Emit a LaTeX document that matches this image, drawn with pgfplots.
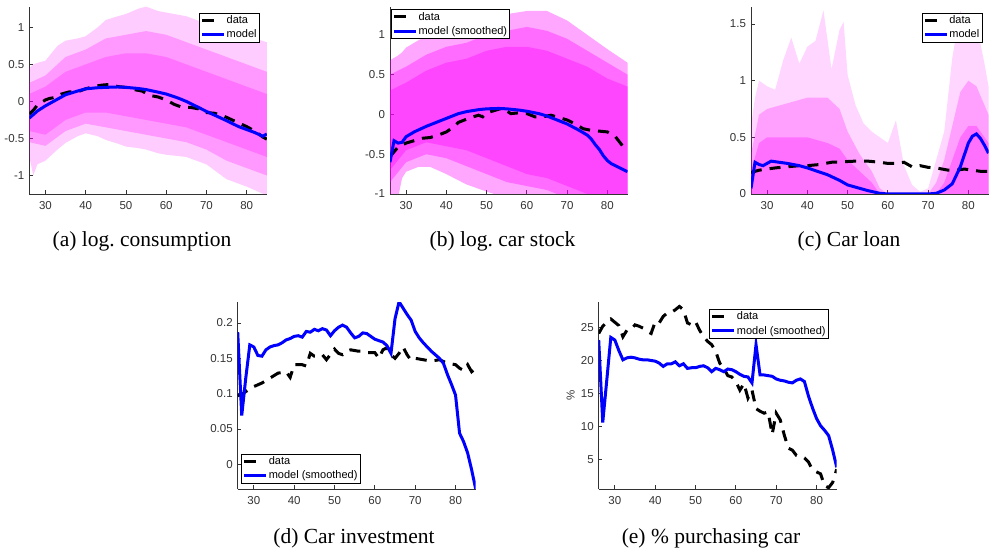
\documentclass[border=0pt]{standalone}
\usepackage{fontspec}
\setmainfont{Liberation Serif}
\newfontfamily\sansf{Liberation Sans}
\usepackage{pgfplots}
\pgfplotsset{compat=1.18}
\definecolor{mag}{rgb}{1,0,1}
\pgfplotsset{
  panel/.style={
    scale only axis, width=237.5pt, height=187pt,
    xmin=26, xmax=85,
    axis x line*=bottom, axis y line*=left,
    axis line style={black!80, line width=0.8pt},
    tick align=inside, major tick length=3.5pt,
    tick style={black!80, line width=0.8pt},
    xtick={30,40,50,60,70,80},
    xticklabels={30,40,50,60,70,80},
    tick label style={font=\sansf\fontsize{11.5}{13}\selectfont, text=black!80},
    xticklabel style={yshift=-4pt},
    yticklabel style={xshift=-1.5pt},
    legend style={font=\sansf\fontsize{11}{12}\selectfont, draw=black, line width=0.6pt,
      inner xsep=1.5pt, inner ysep=1.5pt, row sep=3pt, fill=white,
      nodes={inner sep=1pt}},
    legend cell align=left,
    legend image code/.code={\draw[##1] (0pt,0pt) -- (22pt,0pt);},
  },
  datal/.style={black, line width=3pt, dash pattern=on 11pt off 8pt,
    legend image code/.code={\draw[##1, dash pattern=on 12pt off 10pt] (0pt,0pt) -- (22pt,0pt);}},
  modell/.style={blue, line width=3pt},
  band/.style={forget plot, draw=none, fill=mag, fill opacity=#1},
}
\begin{document}
\begin{tikzpicture}[x=1pt,y=1pt]
\useasboundingbox (0,0) rectangle (993,554);

% ---------------- (a)
\begin{axis}[panel, at={(29.3pt,360pt)}, anchor=south west,
  ymin=-1.25, ymax=1.275, ytick={-1,-0.5,0,0.5,1}, yticklabels={-1,-0.5,0,0.5,1},
  legend style={at={(0.969,0.9695)},anchor=north east}]
\addplot[band=0.2] coordinates {(26,0.45)(27,0.5)(28,0.52)(30,0.55)(33,0.75)(35,0.82)(38,0.85)(40,0.88)(43,1.0)(45,1.1)(48,1.15)(50,1.18)(53,1.25)(55,1.28)(58,1.22)(60,1.2)(65,1.15)(70,1.05)(75,0.95)(80,0.88)(85,0.8)
 (85,-1.27)(80,-1.15)(75,-1.05)(70,-0.85)(65,-0.75)(60,-0.72)(58,-0.7)(55,-0.65)(53,-0.63)(50,-0.61)(48,-0.57)(45,-0.52)(43,-0.47)(40,-0.43)(38,-0.47)(35,-0.56)(33,-0.65)(30,-0.8)(28,-0.85)(27,-1.0)(26,-0.75)};
\addplot[band=0.25] coordinates {(26,0.25)(30,0.35)(35,0.6)(40,0.7)(45,0.85)(50,0.9)(55,0.95)(60,0.9)(65,0.8)(70,0.7)(75,0.6)(80,0.5)(85,0.4)
 (85,-1.0)(80,-0.9)(75,-0.8)(70,-0.65)(65,-0.55)(60,-0.5)(55,-0.45)(50,-0.4)(45,-0.35)(40,-0.3)(35,-0.4)(30,-0.6)(26,-0.55)};
\addplot[band=0.25] coordinates {(26,0.1)(30,0.2)(35,0.4)(40,0.5)(45,0.6)(50,0.65)(55,0.65)(60,0.6)(65,0.5)(70,0.4)(75,0.3)(80,0.2)(85,0.1)
 (85,-0.75)(80,-0.65)(75,-0.55)(70,-0.45)(65,-0.35)(60,-0.3)(55,-0.25)(50,-0.2)(45,-0.15)(40,-0.15)(35,-0.25)(30,-0.45)(26,-0.4)};
\addplot[datal] coordinates {(26,-0.17)(27,-0.12)(28,-0.05)(30,0.02)(31,0.04)(32,0.05)(34,0.10)(36,0.13)(38,0.13)(40,0.17)(42,0.20)(44,0.22)(46,0.23)(48,0.20)(50,0.19)(52,0.16)(54,0.14)(56,0.08)(58,0.06)(60,0.02)(62,-0.04)(64,-0.08)(66,-0.08)(68,-0.10)(70,-0.15)(72,-0.16)(74,-0.19)(76,-0.24)(78,-0.29)(80,-0.34)(82,-0.40)(84,-0.48)(85,-0.51)};
\addlegendentry{data}
\addplot[modell] coordinates {(26,-0.225)(28,-0.13)(30,-0.06)(32,0.0)(35,0.09)(38,0.14)(40,0.17)(43,0.185)(45,0.19)(48,0.195)(50,0.19)(53,0.175)(55,0.16)(58,0.125)(60,0.10)(63,0.045)(65,0.0)(68,-0.08)(70,-0.135)(73,-0.21)(75,-0.26)(78,-0.34)(80,-0.38)(82,-0.42)(84,-0.47)(85,-0.44)};
\addlegendentry{model}
\end{axis}

% ---------------- (b)
\begin{axis}[panel, at={(390pt,360pt)}, anchor=south west,
  ymin=-1, ymax=1.35, ytick={-1,-0.5,0,0.5,1}, yticklabels={-1,-0.5,0,0.5,1},
  legend style={at={(0.003,0.988)},anchor=north west}]
\addplot[band=0.35] coordinates {(26,0.68)(28,0.74)(29,0.78)(30,0.84)(33,0.93)(36,1.0)(40,1.07)(45,1.1)(50,1.2)(55,1.26)(60,1.3)(65,1.3)(70,1.18)(75,1.0)(80,0.82)(85,0.65)
 (85,-1.05)(80,-1.05)(75,-1.05)(70,-1.05)(65,-1.05)(60,-1.05)(55,-1.05)(50,-0.97)(45,-0.88)(40,-0.75)(36,-0.66)(33,-0.66)(30,-0.72)(29,-0.8)(28,-1.05)(26,-1.05)};
\addplot[band=0.35] coordinates {(26,0.5)(30,0.6)(35,0.75)(40,0.85)(45,0.9)(50,1.0)(55,1.05)(60,1.1)(65,1.05)(70,0.95)(75,0.8)(80,0.65)(85,0.5)
 (85,-1.05)(80,-1.05)(75,-1.05)(70,-1.05)(65,-0.95)(60,-0.9)(55,-0.85)(50,-0.75)(45,-0.65)(40,-0.55)(35,-0.5)(30,-0.6)(26,-0.85)};
\addplot[band=0.35] coordinates {(26,0.3)(30,0.4)(35,0.55)(40,0.65)(45,0.7)(50,0.8)(55,0.85)(60,0.85)(65,0.8)(70,0.7)(75,0.6)(80,0.45)(85,0.35)
 (85,-1.05)(80,-1.05)(75,-1.0)(70,-0.9)(65,-0.8)(60,-0.75)(55,-0.65)(50,-0.55)(45,-0.45)(40,-0.4)(35,-0.35)(30,-0.45)(26,-0.7)};
\addplot[datal] coordinates {(26,-0.53)(27,-0.47)(28,-0.41)(30,-0.36)(32,-0.33)(34,-0.30)(36,-0.29)(38,-0.26)(40,-0.22)(42,-0.15)(43,-0.10)(46,-0.04)(48,-0.01)(49,-0.03)(50,0.02)(52,0.05)(54,0.08)(56,0.01)(58,0.02)(60,0.01)(62,-0.03)(64,-0.03)(66,-0.01)(68,-0.04)(70,-0.07)(72,-0.12)(74,-0.18)(76,-0.20)(78,-0.21)(80,-0.22)(82,-0.28)(84,-0.41)(85,-0.43)};
\addlegendentry{data}
\addplot[modell] coordinates {(26,-0.6)(27,-0.33)(28,-0.36)(29,-0.35)(30,-0.28)(32,-0.22)(35,-0.15)(38,-0.09)(40,-0.05)(43,0.01)(45,0.035)(48,0.06)(50,0.07)(53,0.075)(55,0.07)(58,0.055)(60,0.04)(63,0.01)(65,-0.02)(68,-0.08)(70,-0.12)(73,-0.2)(75,-0.26)(76,-0.31)(77,-0.38)(78,-0.44)(79,-0.52)(80,-0.58)(81,-0.62)(83,-0.67)(85,-0.72)};
\addlegendentry{model (smoothed)}
\end{axis}

% ---------------- (c)
\begin{axis}[panel, at={(751pt,360pt)}, anchor=south west,
  ymin=0, ymax=1.65, ytick={0,0.5,1,1.5}, yticklabels={0,0.5,1,1.5},
  legend style={at={(0.973,0.9695)},anchor=north east}]
\addplot[band=0.16] coordinates {(26,0.6)(27,0.85)(28,1.0)(30,0.95)(32,0.92)(34,1.18)(36,1.38)(38,1.15)(40,1.3)(42,1.35)(44,1.62)(46,1.1)(48,1.45)(49,1.52)(50,1.05)(52,0.78)(54,0.62)(56,0.55)(58,0.5)(60,0.45)(62,0.65)(63,0.45)(64,0.25)(66,0.08)(68,0.02)(70,0.05)(72,0.3)(74,0.55)(76,1.2)(78,1.62)(80,1.4)(82,1.5)(84,1.15)(85,0.95)
 (85,0)(26,0)};
\addplot[band=0.25] coordinates {(26,0.35)(28,0.7)(30,0.75)(35,0.8)(40,0.85)(45,0.85)(48,0.75)(50,0.55)(53,0.35)(56,0.2)(58,0.05)(60,0.0)(70,0.0)(72,0.1)(74,0.3)(76,0.6)(78,0.9)(80,1.0)(82,0.95)(85,0.7)
 (85,0)(26,0)};
\addplot[band=0.3] coordinates {(26,0.2)(28,0.45)(30,0.5)(35,0.5)(40,0.5)(45,0.45)(48,0.4)(50,0.3)(53,0.2)(56,0.1)(58,0.0)(72,0.0)(74,0.1)(76,0.3)(78,0.5)(80,0.6)(82,0.6)(85,0.45)
 (85,0)(26,0)};
\addplot[datal] coordinates {(26,0.19)(28,0.21)(30,0.22)(32,0.23)(35,0.24)(38,0.25)(40,0.25)(43,0.26)(46,0.28)(49,0.285)(52,0.29)(55,0.29)(58,0.28)(60,0.27)(62,0.27)(64,0.28)(65,0.26)(66,0.24)(68,0.25)(70,0.235)(72,0.23)(75,0.21)(77,0.21)(79,0.22)(81,0.21)(83,0.2)(85,0.2)};
\addlegendentry{data}
\addplot[modell] coordinates {(26,0.05)(27,0.28)(28,0.26)(29,0.25)(30,0.27)(31,0.29)(33,0.28)(35,0.27)(38,0.25)(40,0.23)(45,0.17)(48,0.12)(50,0.08)(55,0.03)(58,0.006)(60,0)(70,0)(72,0.006)(74,0.035)(76,0.09)(78,0.24)(80,0.45)(81,0.51)(82,0.53)(83,0.49)(84,0.43)(85,0.36)};
\addlegendentry{model}
\end{axis}

% ---------------- (d)
\begin{axis}[panel, at={(237.7pt,65pt)}, anchor=south west, width=238pt, height=186.5pt,
  ymin=-0.035, ymax=0.229, ytick={0,0.05,0.1,0.15,0.2}, yticklabels={0,0.05,0.1,0.15,0.2},
  legend style={at={(0.014,0.031)},anchor=south west}]
\addplot[datal] coordinates {(26,0.097)(27,0.099)(28,0.103)(30,0.11)(32,0.115)(34,0.122)(36,0.129)(38,0.131)(39,0.123)(40,0.141)(42,0.141)(43,0.139)(44,0.157)(45,0.153)(46,0.153)(47,0.155)(48,0.148)(50,0.163)(51,0.157)(52,0.155)(53,0.16)(54,0.162)(56,0.16)(57,0.16)(58,0.158)(60,0.158)(61,0.15)(62,0.162)(63,0.165)(64,0.155)(65,0.15)(66,0.157)(67,0.166)(68,0.155)(69,0.147)(70,0.15)(72,0.148)(74,0.146)(76,0.148)(78,0.143)(80,0.141)(81,0.136)(82,0.133)(83,0.141)(84,0.131)(85,0.136)};
\addlegendentry{data}
\addplot[modell] coordinates {(26,0.187)(27,0.069)(28,0.122)(29,0.169)(30,0.166)(31,0.154)(32,0.153)(33,0.162)(34,0.166)(35,0.168)(36,0.169)(37,0.172)(38,0.176)(39,0.178)(40,0.181)(41,0.182)(42,0.18)(43,0.188)(44,0.187)(45,0.191)(46,0.189)(47,0.192)(48,0.19)(49,0.182)(50,0.189)(51,0.194)(52,0.197)(53,0.194)(54,0.186)(55,0.179)(56,0.181)(57,0.186)(58,0.185)(59,0.181)(60,0.177)(61,0.175)(62,0.173)(63,0.168)(64,0.157)(65,0.206)(66,0.23)(67,0.221)(68,0.212)(69,0.204)(70,0.188)(71,0.179)(72,0.172)(73,0.166)(74,0.16)(75,0.155)(76,0.15)(77,0.143)(78,0.127)(79,0.113)(80,0.098)(81,0.044)(82,0.032)(83,0.016)(84,-0.008)(85,-0.035)};
\addlegendentry{model (smoothed)}
\end{axis}

% ---------------- (e)
\begin{axis}[panel, at={(598.7pt,65pt)}, anchor=south west, width=238pt, height=186.5pt,
  ymin=0.5, ymax=28.8, ytick={5,10,15,20,25}, yticklabels={5,10,15,20,25},
  ylabel={\%}, ylabel style={font=\sansf\fontsize{11.5}{13}\selectfont, text=black!80, at={(axis description cs:-0.1176,0.5)}, anchor=center},
  legend style={at={(0.965,0.966)},anchor=north east}]
\addplot[datal] coordinates {(26,24.1)(27,25.2)(28,25.8)(29,26.3)(30,25.8)(31,25.3)(32,23.6)(33,24.6)(34,24.7)(35,25.4)(36,25.2)(37,24.9)(38,24.4)(39,24.1)(40,25.9)(41,25.7)(42,26.7)(43,27.2)(44,27.3)(45,27.7)(46,28.2)(47,27.7)(48,25.7)(49,25.4)(50,25.9)(51,24.6)(52,23.6)(53,22.9)(54,22.4)(55,21.4)(56,19.6)(57,18.8)(58,17.7)(59,17.5)(60,16.8)(61,15.5)(62,16.5)(63,14.3)(64,15.5)(65,12.7)(66,12.3)(67,12.0)(68,12.2)(69,8.8)(70,12.0)(71,11.0)(72,8.7)(73,6.7)(74,6.4)(75,5.6)(76,5.4)(77,5.2)(78,4.6)(79,3.4)(80,3.1)(81,2.8)(82,1.0)(83,0.7)(84,1.5)(85,3.5)};
\addlegendentry{data}
\addplot[modell] coordinates {(26,23.1)(27,10.6)(28,17.0)(29,23.5)(30,23.1)(31,21.5)(32,20.1)(33,20.4)(34,20.5)(35,20.4)(36,20.2)(37,20.1)(38,20.1)(39,20.0)(40,19.9)(41,19.6)(42,19.1)(43,19.5)(44,19.5)(45,19.8)(46,19.2)(47,19.5)(48,18.8)(49,18.9)(50,18.9)(51,19.1)(52,19.2)(53,18.9)(54,18.3)(55,18.8)(56,18.6)(57,18.3)(58,18.7)(59,18.6)(60,18.3)(61,17.9)(62,17.6)(63,17.5)(64,16.6)(65,22.4)(66,17.8)(67,17.8)(68,17.7)(69,17.6)(70,17.2)(71,17.0)(72,16.9)(73,16.7)(74,16.6)(75,17.0)(76,17.2)(77,16.8)(78,14.6)(79,12.8)(80,11.2)(81,10.1)(82,9.4)(83,8.6)(84,6.4)(85,3.8)};
\addlegendentry{model (smoothed)}
\end{axis}

\begin{scope}[font=\fontsize{21.5}{26}\selectfont]
\node[anchor=base, inner sep=0pt] at (142,307) {(a) log.\ consumption};
\node[anchor=base, inner sep=0pt] at (502.5,307) {(b) log.\ car stock};
\node[anchor=base, inner sep=0pt] at (849,307) {(c) Car loan};
\node[anchor=base, inner sep=0pt] at (354,10) {(d) Car investment};
\node[anchor=base, inner sep=0pt] at (711,10) {(e) \% purchasing car};
\end{scope}
\end{tikzpicture}
\end{document}
